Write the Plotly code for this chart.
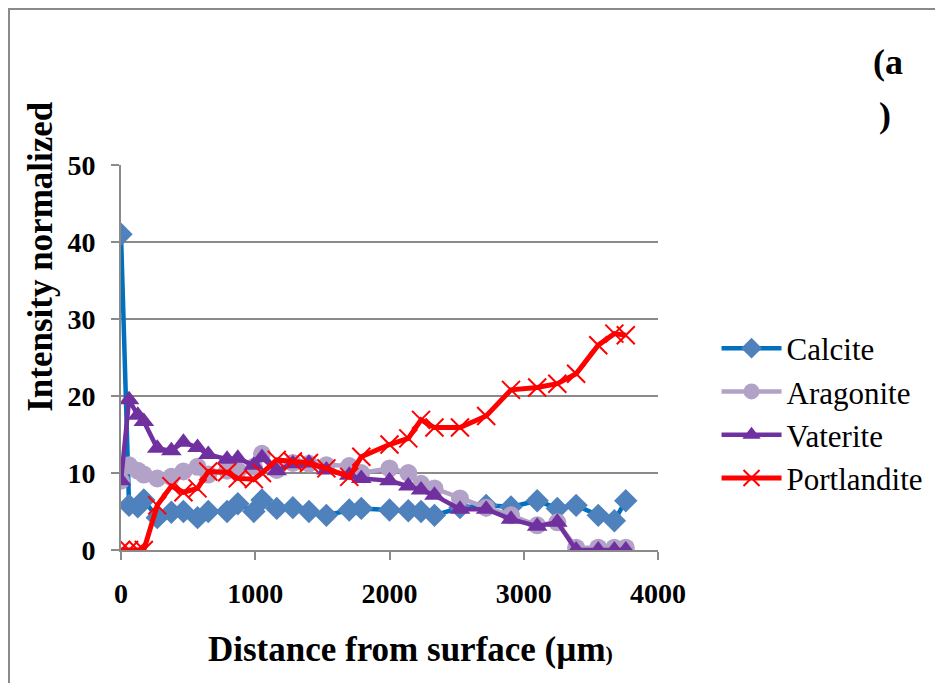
import plotly.graph_objects as go

distance = [0, 60, 125, 170, 270, 375, 465, 570, 650, 790, 870, 990, 1050, 1160, 1280, 1400,
            1530, 1700, 1790, 2000, 2140, 2235, 2335, 2525, 2720, 2905, 3100, 3250, 3390, 3555, 3675, 3760]

calcite = [41, 5.8, 5.6, 6.5, 4.2, 4.9, 5.0, 4.2, 5.0, 5.0, 6.0, 5.0, 6.5, 5.4, 5.5, 5.0,
           4.5, 5.2, 5.4, 5.2, 5.1, 5.0, 4.5, 5.5, 5.8, 5.6, 6.4, 5.4, 5.8, 4.5, 3.8, 6.4]
aragonite = [9.0, 11.0, 10.3, 9.8, 9.3, 9.5, 10.2, 10.8, 9.8, 10.3, 10.3, 10.8, 12.5, 10.4, 11.3, 11.2,
             11.0, 10.9, 10.0, 10.6, 10.0, 8.6, 8.0, 6.7, 5.5, 4.5, 3.2, 3.6, 0.3, 0.3, 0.3, 0.3]
vaterite = [9.0, 19.5, 17.5, 16.7, 13.2, 12.9, 14.0, 13.3, 12.4, 11.8, 11.9, 11.0, 12.0, 10.3, 11.2, 11.3,
            10.4, 9.7, 9.3, 9.0, 8.3, 7.8, 7.1, 5.3, 5.3, 4.0, 3.1, 3.6, 0, 0, 0, 0]
portlandite = [0, 0, 0, 0, 5.8, 8.3, 7.5, 8.0, 10.2, 10.1, 9.3, 9.2, 10.0, 11.7, 11.5, 11.3,
               10.6, 9.5, 12.1, 13.7, 14.5, 16.9, 15.9, 15.9, 17.4, 20.8, 21.1, 21.6, 22.9, 26.6, 28.1, 27.9]

x_ticks = [0, 1000, 2000, 3000, 4000]
y_ticks = [0, 10, 20, 30, 40, 50]

SERIF = "Liberation Serif, Times New Roman, serif"

fig = go.Figure()
fig.add_trace(go.Scatter(x=distance, y=calcite, name="Calcite", mode="lines+markers", legendgroup="g1",
                         line=dict(color="#0070C0", width=4.5),
                         marker=dict(symbol="diamond", size=18, color="#4F81BD")))
fig.add_trace(go.Scatter(x=distance, y=aragonite, name="Aragonite", mode="lines+markers", legendgroup="g2",
                         line=dict(color="#B3A2C7", width=4.5),
                         marker=dict(symbol="circle", size=18, color="#B3A2C7")))
fig.add_trace(go.Scatter(x=distance, y=vaterite, name="Vaterite", mode="lines+markers", legendgroup="g3",
                         line=dict(color="#7030A0", width=4.5),
                         marker=dict(symbol="triangle-up", size=18, color="#7030A0")))
fig.add_trace(go.Scatter(x=distance, y=portlandite, name="Portlandite", mode="lines+markers", legendgroup="g4",
                         line=dict(color="#FF0000", width=5),
                         marker=dict(symbol="x-thin", size=18, color="#FF0000",
                                     line=dict(color="#FF0000", width=2))))

fig.update_layout(
    width=935, height=675,
    paper_bgcolor="white", plot_bgcolor="white",
    margin=dict(l=113, r=285, t=157, b=133, autoexpand=False),
    font=dict(family=SERIF, color="black"),
    showlegend=True,
    legend=dict(x=1.109, y=0.3545, xanchor="left", yanchor="middle",
                font=dict(family=SERIF, size=31, color="black"),
                itemwidth=60, tracegroupgap=5, traceorder="normal",
                bgcolor="rgba(0,0,0,0)"),
    xaxis=dict(range=[0, 4000], tickvals=x_ticks, ticktext=[str(v) for v in x_ticks],
               showgrid=False, zeroline=False, automargin=False,
               showline=True, linecolor="#8A8A8A", linewidth=2,
               ticks="outside", ticklen=8, tickwidth=2, tickcolor="#8A8A8A",
               ticklabelstandoff=9,
               tickfont=dict(family=SERIF, size=28, color="black", weight="bold")),
    yaxis=dict(range=[0, 50], tickvals=y_ticks, ticktext=[str(v) for v in y_ticks],
               showgrid=True, gridcolor="#8A8A8A", gridwidth=2, zeroline=False, automargin=False,
               showline=True, linecolor="#8A8A8A", linewidth=2,
               ticks="outside", ticklen=8, tickwidth=2, tickcolor="#8A8A8A",
               ticklabelstandoff=10,
               tickfont=dict(family=SERIF, size=28, color="black", weight="bold")),
    shapes=[dict(type="rect", xref="paper", yref="paper",
                 x0=-0.2086, x1=1.6, y0=-0.4, y1=1.405,
                 line=dict(color="#8A8A8A", width=2), fillcolor="rgba(0,0,0,0)", layer="below")],
    annotations=[
        dict(text="<b>Intensity normalized</b>", xref="paper", yref="paper", x=-0.149, y=0.764,
             xanchor="center", yanchor="middle",
             textangle=-90, showarrow=False, font=dict(family=SERIF, size=35, color="black")),
        dict(text="<b>Distance from surface (µm<span style='font-size:22px'>)</span></b>",
             xref="paper", yref="paper", x=0.540, y=-0.2597, xanchor="center", yanchor="middle",
             showarrow=False, font=dict(family=SERIF, size=35, color="black")),
        dict(text="<b>(a</b>", xref="paper", yref="paper", x=1.428, y=1.2675,
             xanchor="center", yanchor="middle",
             showarrow=False, font=dict(family=SERIF, size=36, color="black")),
        dict(text="<b>)</b>", xref="paper", yref="paper", x=1.4227, y=1.13,
             xanchor="center", yanchor="middle",
             showarrow=False, font=dict(family=SERIF, size=36, color="black")),
    ],
)

fig.write_html("out.html")
